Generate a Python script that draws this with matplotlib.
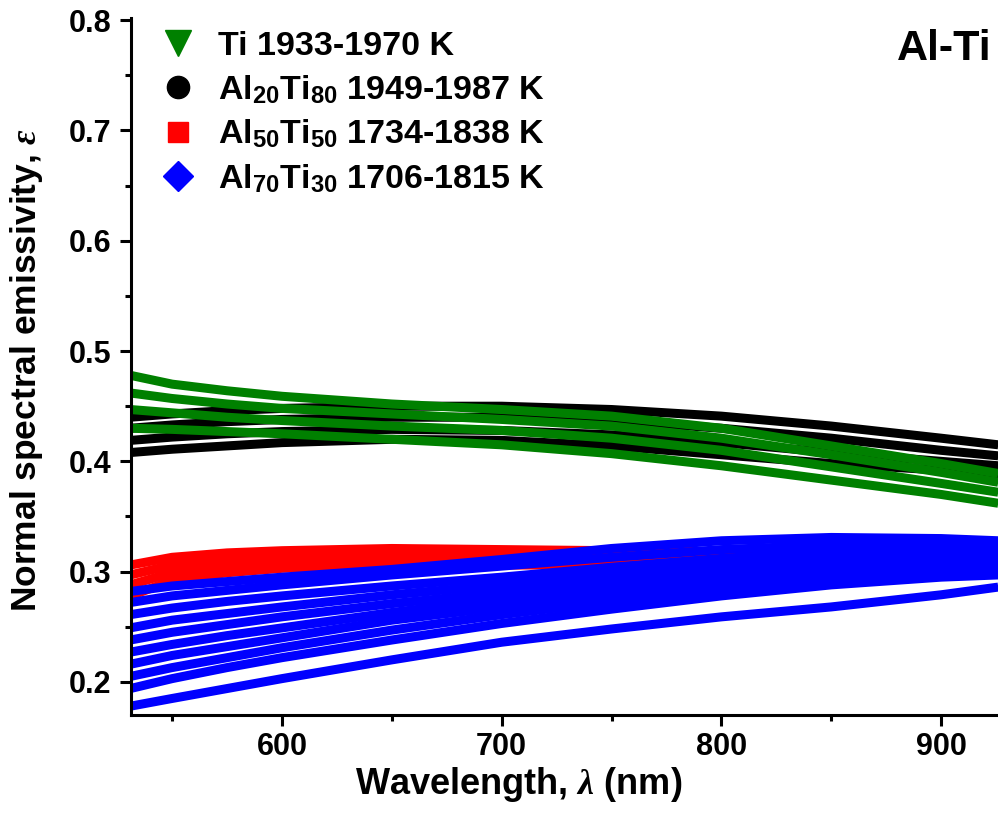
import matplotlib
matplotlib.use("Agg")
import matplotlib.pyplot as plt
from matplotlib.lines import Line2D
from matplotlib.ticker import MultipleLocator

plt.rcParams['font.family'] = ['Liberation Sans', 'DejaVu Sans']
plt.rcParams['font.weight'] = 'bold'
plt.rcParams['axes.labelweight'] = 'bold'
plt.rcParams['mathtext.fontset'] = 'custom'
plt.rcParams['mathtext.rm'] = 'Liberation Sans:bold'
plt.rcParams['mathtext.bf'] = 'Liberation Sans:bold'
plt.rcParams['mathtext.it'] = 'Liberation Serif:italic'

wavelength = [531, 550, 575, 600, 650, 700, 750, 800, 850, 900, 926]

# Ti 1933-1970 K
ti_curves = [
    [0.478, 0.470, 0.464, 0.459, 0.452, 0.447, 0.441, 0.430, 0.414, 0.398, 0.389],
    [0.462, 0.457, 0.452, 0.448, 0.443, 0.438, 0.432, 0.421, 0.406, 0.390, 0.381],
    [0.447, 0.444, 0.440, 0.437, 0.432, 0.428, 0.421, 0.410, 0.395, 0.380, 0.372],
    [0.430, 0.429, 0.427, 0.425, 0.420, 0.415, 0.407, 0.396, 0.383, 0.370, 0.362],
]

# Al20Ti80 1949-1987 K
al20_curves = [
    [0.440, 0.443, 0.446, 0.448, 0.450, 0.450, 0.447, 0.441, 0.432, 0.421, 0.415],
    [0.430, 0.433, 0.436, 0.438, 0.440, 0.440, 0.437, 0.430, 0.421, 0.410, 0.405],
    [0.419, 0.422, 0.425, 0.427, 0.429, 0.428, 0.424, 0.417, 0.408, 0.400, 0.396],
    [0.408, 0.411, 0.414, 0.417, 0.420, 0.419, 0.414, 0.406, 0.398, 0.392, 0.389],
]

# Al50Ti50 1734-1838 K
al50_curves = [
    [0.306, 0.313, 0.317, 0.319, 0.321, 0.320, 0.319, 0.318, 0.320, 0.323, 0.326],
    [0.297, 0.306, 0.310, 0.313, 0.315, 0.315, 0.314, 0.315, 0.317, 0.320, 0.322],
    [0.288, 0.299, 0.304, 0.307, 0.310, 0.310, 0.310, 0.311, 0.313, 0.316, 0.318],
    [0.278, 0.292, 0.299, 0.303, 0.306, 0.306, 0.306, 0.308, 0.310, 0.313, 0.315],
]

# Al70Ti30 1706-1815 K
al70_curves = [
    [0.282, 0.287, 0.291, 0.295, 0.302, 0.311, 0.321, 0.328, 0.331, 0.330, 0.328],
    [0.272, 0.278, 0.283, 0.288, 0.297, 0.305, 0.313, 0.320, 0.324, 0.324, 0.323],
    [0.261, 0.267, 0.273, 0.278, 0.287, 0.295, 0.304, 0.312, 0.318, 0.320, 0.319],
    [0.249, 0.256, 0.262, 0.268, 0.279, 0.288, 0.297, 0.305, 0.312, 0.315, 0.316],
    [0.238, 0.245, 0.252, 0.259, 0.271, 0.281, 0.291, 0.300, 0.307, 0.311, 0.312],
    [0.227, 0.234, 0.242, 0.249, 0.263, 0.275, 0.286, 0.295, 0.303, 0.307, 0.309],
    [0.216, 0.224, 0.232, 0.240, 0.256, 0.268, 0.280, 0.290, 0.298, 0.303, 0.305],
    [0.205, 0.213, 0.222, 0.231, 0.247, 0.261, 0.273, 0.284, 0.293, 0.299, 0.301],
    [0.194, 0.203, 0.213, 0.222, 0.238, 0.253, 0.266, 0.278, 0.288, 0.295, 0.297],
    [0.178, 0.185, 0.194, 0.203, 0.220, 0.236, 0.248, 0.259, 0.268, 0.279, 0.286],
]

labels = ['Ti 1933-1970 K',
          r'Al$_{20}$Ti$_{80}$ 1949-1987 K',
          r'Al$_{50}$Ti$_{50}$ 1734-1838 K',
          r'Al$_{70}$Ti$_{30}$ 1706-1815 K']

fig = plt.figure(figsize=(9.98, 8.14), dpi=100)
ax = fig.add_axes([0.1313, 0.1216, 0.8687, 0.8563])

LW = 6.5
for c in al20_curves:
    ax.plot(wavelength, c, color='black', lw=LW, solid_capstyle='butt')
for c in ti_curves:
    ax.plot(wavelength, c, color='#008000', lw=LW, solid_capstyle='butt')
for c in al50_curves:
    ax.plot(wavelength, c, color='#ff0000', lw=LW, solid_capstyle='butt')
for c in al70_curves:
    ax.plot(wavelength, c, color='#0000ff', lw=LW, solid_capstyle='butt')

ax.set_xlim(531.3, 925.9)
ax.set_ylim(0.17, 0.802)
ax.xaxis.set_major_locator(MultipleLocator(100))
ax.xaxis.set_minor_locator(MultipleLocator(50))
ax.yaxis.set_major_locator(MultipleLocator(0.1))
ax.yaxis.set_minor_locator(MultipleLocator(0.05))
ax.yaxis.set_major_formatter(plt.FormatStrFormatter('%.1f'))

for side in ['top', 'right']:
    ax.spines[side].set_visible(False)
for side in ['left', 'bottom']:
    ax.spines[side].set_linewidth(2.2)
ax.tick_params(which='major', direction='out', length=8, width=2.2, labelsize=22, pad=6)
ax.tick_params(axis='x', which='major', pad=4)
ax.tick_params(which='minor', direction='out', length=4.5, width=2.2)

ax.set_xlabel(r'Wavelength, $\lambda$ (nm)', fontsize=26)
ax.set_ylabel(r'Normal spectral emissivity, $\varepsilon$', fontsize=25.5)
ax.xaxis.set_label_coords(0.4475, -0.072)
ax.yaxis.set_label_coords(-0.099, 0.495)

handles = [
    Line2D([], [], ls='none', marker='v', color='#008000', markersize=19),
    Line2D([], [], ls='none', marker='o', color='black', markersize=16),
    Line2D([], [], ls='none', marker='s', color='#ff0000', markersize=14),
    Line2D([], [], ls='none', marker='D', color='#0000ff', markersize=15),
]
ax.legend(handles, labels, loc='upper left', bbox_to_anchor=(0.161, 0.962),
          bbox_transform=fig.transFigure, frameon=False, fontsize=24.5,
          handlelength=1.0, handletextpad=0.68, labelspacing=0.34,
          borderpad=0, borderaxespad=0)

fig.text(0.899, 0.926, 'Al-Ti', fontsize=31, fontweight='bold', va='baseline')

fig.savefig('out.png', dpi=100)
